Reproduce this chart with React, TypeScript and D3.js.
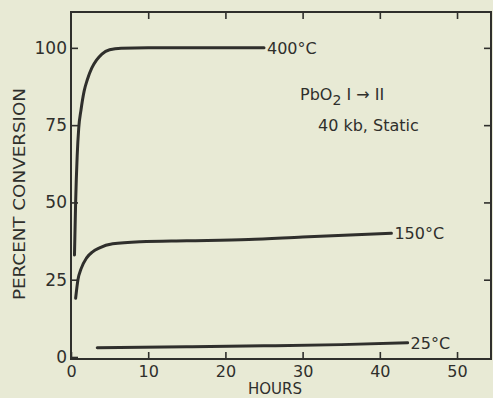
import React, { useEffect, useRef } from "react";
import * as d3 from "d3";

// curves (hours, percent conversion)
const hours400 = [0.45, 0.6, 0.8, 1.0, 1.3, 1.7, 2.1, 2.7, 3.3, 4, 5, 6.5, 10, 25];
const conv400 = [33, 50, 65, 74, 80, 86, 89.6, 93.5, 96, 98, 99.4, 99.9, 100, 100];

const hours150 = [0.6, 0.9, 1.3, 2, 2.8, 3.7, 5.4, 9, 15, 23, 30, 41.5];
const conv150 = [19, 25, 28.5, 32, 34, 35.3, 36.6, 37.3, 37.6, 38, 38.8, 40];

const hours25 = [3.4, 15, 25, 35, 43.6];
const conv25 = [3, 3.3, 3.6, 4.0, 4.6];

const seriesLabels = ["400°C", "150°C", "25°C"];
const xTicks = [0, 10, 20, 30, 40, 50];
const yTicks = [0, 25, 50, 75, 100];

const width = 493;
const height = 398;
const ink = "#2f2f2c";
const font = "'DejaVu Sans', sans-serif";

function App() {
  const ref = useRef<SVGSVGElement>(null);

  useEffect(() => {
    const svg = d3.select(ref.current);
    svg.selectAll("*").remove();

    const margin = { top: 12, right: 2, bottom: 39, left: 71 };
    const w = width - margin.left - margin.right;
    const h = height - margin.top - margin.bottom;

    svg.append("rect").attr("width", width).attr("height", height).attr("fill", "#e8ead5");

    const g = svg.append("g").attr("transform", `translate(${margin.left},${margin.top})`);

    const x = d3.scaleLinear().domain([0, 54.4]).range([0, w]);
    const y = d3.scaleLinear().domain([-0.65, 111.6]).range([h, 0]);

    // frame
    g.append("rect")
      .attr("width", w)
      .attr("height", h)
      .attr("fill", "none")
      .attr("stroke", ink)
      .attr("stroke-width", 2);

    const styleAxis = (sel: any, showText: boolean) => {
      sel.select(".domain").remove();
      sel.selectAll(".tick line").attr("stroke", ink).attr("stroke-width", 1.6);
      sel.selectAll(".tick text")
        .attr("fill", ink)
        .style("font-family", font)
        .style("font-size", "16px")
        .style("display", showText ? null : "none");
    };

    // bottom axis, ticks pointing inward
    g.append("g")
      .attr("transform", `translate(0,${h})`)
      .call(d3.axisBottom(x).tickValues(xTicks).tickSize(-7).tickPadding(7))
      .call((s: any) => styleAxis(s, true));

    // top axis ticks only
    g.append("g")
      .call(d3.axisTop(x).tickValues(xTicks.slice(1)).tickSize(-7))
      .call((s: any) => styleAxis(s, false));

    // left axis
    g.append("g")
      .call(d3.axisLeft(y).tickValues(yTicks).tickSize(-7).tickPadding(4))
      .call((s: any) => {
        styleAxis(s, true);
        s.selectAll(".tick text").style("font-size", "17px");
      });

    // right axis ticks only
    g.append("g")
      .attr("transform", `translate(${w},0)`)
      .call(d3.axisRight(y).tickValues(yTicks.slice(1)).tickSize(-7))
      .call((s: any) => styleAxis(s, false));

    const line = d3
      .line<[number, number]>()
      .x((d) => x(d[0]))
      .y((d) => y(d[1]))
      .curve(d3.curveMonotoneX);

    const series: [number, number][][] = [
      hours400.map((t, i) => [t, conv400[i]]),
      hours150.map((t, i) => [t, conv150[i]]),
      hours25.map((t, i) => [t, conv25[i]]),
    ];

    series.forEach((pts, i) => {
      g.append("path")
        .datum(pts)
        .attr("fill", "none")
        .attr("stroke", ink)
        .attr("stroke-width", 3)
        .attr("stroke-linecap", "round")
        .attr("stroke-linejoin", "round")
        .attr("d", line);

      const last = pts[pts.length - 1];
      g.append("text")
        .attr("x", x(last[0]) + 3)
        .attr("y", y(last[1]))
        .attr("dy", "0.36em")
        .attr("fill", ink)
        .style("font-family", font)
        .style("font-size", "16px")
        .text(seriesLabels[i]);
    });

    // annotation
    const note = g.append("text")
      .attr("x", 229)
      .attr("y", 88)
      .attr("fill", ink)
      .style("font-family", font)
      .style("font-size", "16px");
    note.append("tspan").text("PbO");
    note.append("tspan").attr("dy", 5).style("font-size", "14px").text("2");
    note.append("tspan").attr("dy", -5).text("  I → II");

    g.append("text")
      .attr("x", 247)
      .attr("y", 119)
      .attr("fill", ink)
      .style("font-family", font)
      .style("font-size", "16px")
      .text("40 kb, Static");

    // axis titles
    svg.append("text")
      .attr("x", 275)
      .attr("y", 394)
      .attr("text-anchor", "middle")
      .attr("fill", ink)
      .style("font-family", font)
      .style("font-size", "15px")
      .text("HOURS");

    svg.append("text")
      .attr("transform", "translate(25,194) rotate(-90)")
      .attr("text-anchor", "middle")
      .attr("fill", ink)
      .attr("textLength", 212)
      .attr("lengthAdjust", "spacingAndGlyphs")
      .style("font-family", font)
      .style("font-size", "16px")
      .text("PERCENT CONVERSION");
  }, []);

  return (
    <svg
      ref={ref}
      width={width}
      height={height}
      style={{ position: "absolute", left: 0, top: 0 }}
    />
  );
}

export default App;
